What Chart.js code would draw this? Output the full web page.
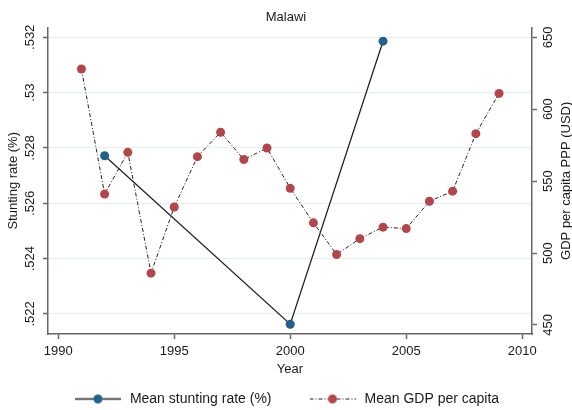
<!DOCTYPE html>
<html>
<head>
<meta charset="utf-8">
<script src="https://cdn.jsdelivr.net/npm/chart.js@4.4.1/dist/chart.umd.min.js"></script>
<style>
  html, body { margin: 0; padding: 0; background: #fff; }
  #wrap { width: 572px; height: 410px; }
</style>
</head>
<body>
<div id="wrap"><canvas id="chart" width="572" height="410"></canvas></div>
<script>
// --- Data ---
const stuntYears = [1992, 2000, 2004];
const stuntRates = [0.52772, 0.52163, 0.53186];

const gdpYears = [1991, 1992, 1993, 1994, 1995, 1996, 1997, 1998, 1999, 2000,
                  2001, 2002, 2003, 2004, 2005, 2006, 2007, 2008, 2009];
const gdpValues = [628, 541, 570, 486, 532, 567, 584, 565, 573, 545,
                   521, 499, 510, 518, 517, 536, 543, 583, 611];

const yearTicks = [1990, 1995, 2000, 2005, 2010];
const stuntTicks = [0.522, 0.524, 0.526, 0.528, 0.53, 0.532];
const gdpTicks = [450, 500, 550, 600, 650];

const seriesLabels = ['Mean stunting rate (%)', 'Mean GDP per capita'];

// --- Styles ---
const FONT = '"Liberation Sans", Arial, Helvetica, sans-serif';
const textColor = '#1a1a1a';
const axisColor = '#666';
const gridColor = '#e3eef1';
const blue = '#22608f';
const red = '#b4464b';
const lineColor = '#222';
const gdpDash = [4, 2, 1, 2];

Chart.defaults.font.family = FONT;
Chart.defaults.font.size = 13;
Chart.defaults.color = textColor;

// Stata style: .53 instead of 0.53
function stripZero(v) {
    return String(v).replace(/^0\./, '.');
}

// Legend symbols: line with a marker in the middle
function makeIcon(color, dash) {
    const c = document.createElement('canvas');
    c.width = 46;
    c.height = 13;
    const g = c.getContext('2d');
    g.strokeStyle = lineColor;
    g.lineWidth = dash ? 1 : 1.4;
    g.setLineDash(dash || []);
    g.beginPath();
    g.moveTo(0, 6.5);
    g.lineTo(46, 6.5);
    g.stroke();
    g.fillStyle = color;
    g.beginPath();
    g.arc(23, 6.5, 4.5, 0, Math.PI * 2);
    g.fill();
    return c;
}
const legendIcons = [makeIcon(blue, null), makeIcon(red, gdpDash)];

// y tick labels and right title are rotated to read upwards
const rotatedText = {
    id: 'rotatedText',
    afterDraw(chart) {
        const ctx = chart.ctx;
        const area = chart.chartArea;
        const yl = chart.scales.y;
        const yr = chart.scales.y1;
        ctx.save();
        ctx.font = '13px ' + FONT;
        ctx.fillStyle = textColor;
        ctx.textAlign = 'center';
        ctx.textBaseline = 'middle';
        const up = (text, x, y) => {
            ctx.save();
            ctx.translate(x, y);
            ctx.rotate(-Math.PI / 2);
            ctx.fillText(text, 0, 0);
            ctx.restore();
        };
        yl.ticks.forEach(t => up(stripZero(t.value), yl.right - 17.5, yl.getPixelForValue(t.value)));
        yr.ticks.forEach(t => up(String(t.value), yr.left + 16.5, yr.getPixelForValue(t.value)));
        up('GDP per capita PPP (USD)', yr.left + 34, (area.top + area.bottom) / 2);
        ctx.restore();
    }
};

const tickMarks = { drawTicks: true, tickLength: 5, tickColor: axisColor, tickWidth: 1.5 };
const axisBorder = { display: true, color: axisColor, width: 1.5 };

new Chart(document.getElementById('chart'), {
    type: 'line',
    data: {
        datasets: [{
            label: seriesLabels[0],
            data: stuntYears.map((x, i) => ({ x: x, y: stuntRates[i] })),
            yAxisID: 'y',
            borderColor: lineColor,
            borderWidth: 1.3,
            pointRadius: 4.5,
            pointBorderWidth: 0,
            pointBackgroundColor: blue,
            pointBorderColor: blue,
            tension: 0
        }, {
            label: seriesLabels[1],
            data: gdpYears.map((x, i) => ({ x: x, y: gdpValues[i] })),
            yAxisID: 'y1',
            borderColor: lineColor,
            borderWidth: 1,
            borderDash: gdpDash,
            pointRadius: 4.5,
            pointBorderWidth: 0,
            pointBackgroundColor: red,
            pointBorderColor: red,
            tension: 0
        }]
    },
    options: {
        responsive: false,
        animation: false,
        layout: { padding: 0 },
        scales: {
            x: {
                type: 'linear',
                position: 'bottom',
                min: 1989.56,
                max: 2010.42,
                afterBuildTicks: s => { s.ticks = yearTicks.map(v => ({ value: v })); },
                afterFit: s => { s.height = 22; },
                ticks: { callback: v => String(v), padding: 5, maxRotation: 0, autoSkip: false },
                grid: Object.assign({ drawOnChartArea: true, color: 'rgba(0,0,0,0)' }, tickMarks),
                border: axisBorder,
                title: { display: true, text: 'Year', padding: { top: 0, bottom: -21 } }
            },
            y: {
                type: 'linear',
                position: 'left',
                min: 0.521276,
                max: 0.532351,
                afterBuildTicks: s => { s.ticks = stuntTicks.map(v => ({ value: v })); },
                afterFit: s => { s.width = 48; },
                ticks: { display: false },
                grid: Object.assign({ color: gridColor, lineWidth: 1 }, tickMarks),
                border: axisBorder,
                title: { display: true, text: 'Stunting rate (%)', padding: { top: 6, bottom: 0 } }
            },
            y1: {
                type: 'linear',
                position: 'right',
                min: 443.7,
                max: 656.75,
                afterBuildTicks: s => { s.ticks = gdpTicks.map(v => ({ value: v })); },
                afterFit: s => { s.width = 40; },
                ticks: { display: false },
                grid: Object.assign({ drawOnChartArea: false }, tickMarks),
                border: axisBorder
            }
        },
        plugins: {
            title: {
                display: true,
                text: 'Malawi',
                color: textColor,
                font: { size: 13, weight: 'normal' },
                padding: { top: 10, bottom: 2 }
            },
            legend: {
                position: 'bottom',
                maxHeight: 54,
                labels: {
                    usePointStyle: true,
                    pointStyleWidth: 50,
                    boxHeight: 13,
                    padding: 36,
                    color: textColor,
                    font: { size: 14 },
                    generateLabels: chart => chart.data.datasets.map((ds, i) => ({
                        text: ds.label,
                        pointStyle: legendIcons[i],
                        fillStyle: 'rgba(0,0,0,0)',
                        strokeStyle: 'rgba(0,0,0,0)',
                        lineWidth: 0,
                        fontColor: textColor,
                        hidden: false,
                        datasetIndex: i
                    }))
                }
            },
            tooltip: { enabled: false }
        }
    },
    plugins: [rotatedText]
});
</script>
</body>
</html>
